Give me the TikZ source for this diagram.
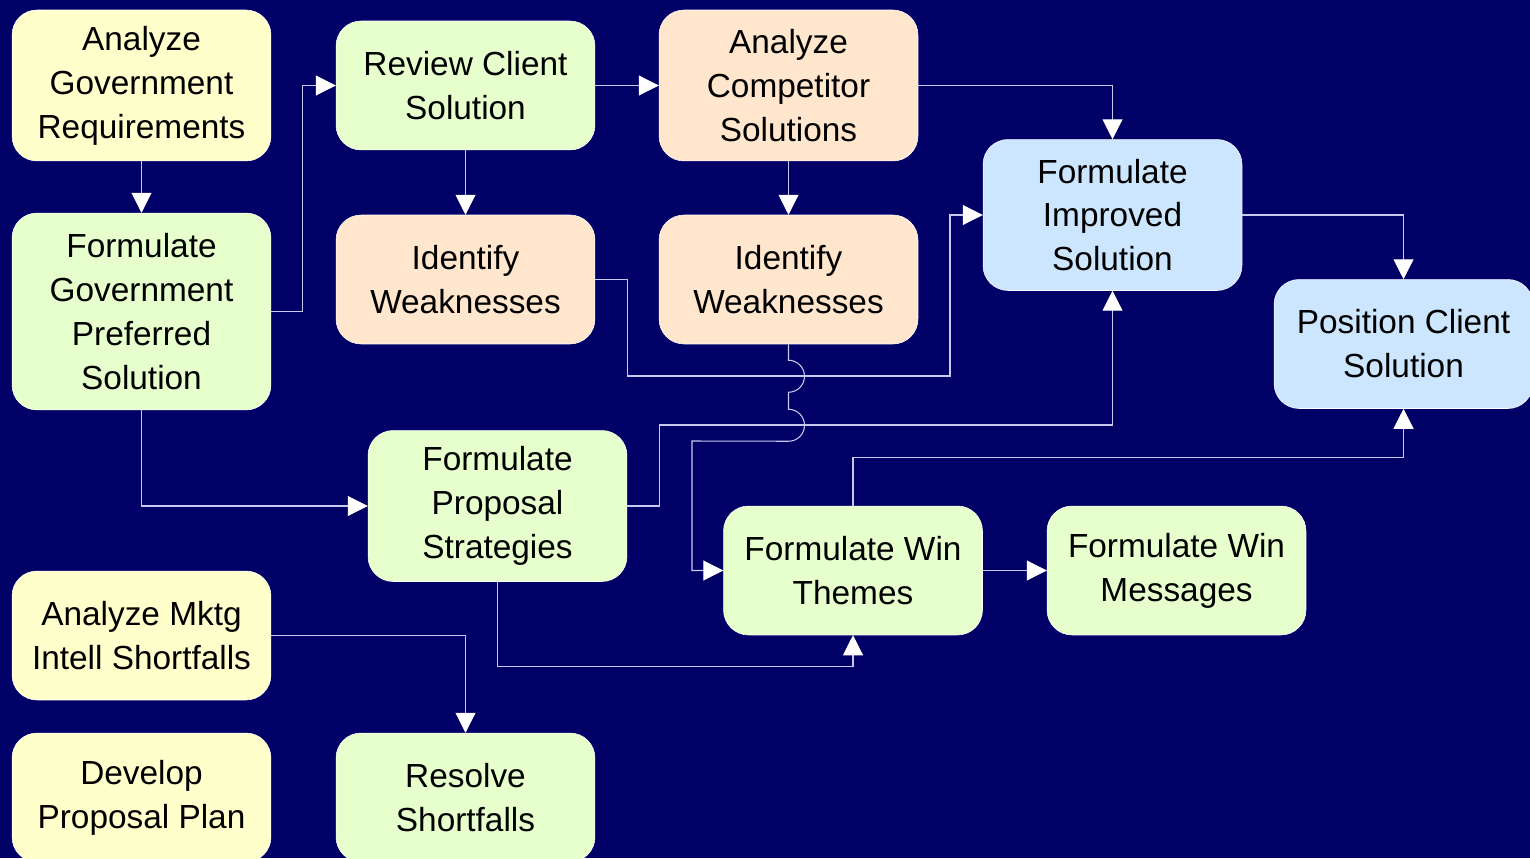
\documentclass[tikz,border=0pt]{standalone}
\usepackage{fontspec}
\setmainfont{Liberation Sans}
\usetikzlibrary{arrows.meta}
\definecolor{navy}{HTML}{000066}
\definecolor{paleyellow}{HTML}{FFFFCC}
\definecolor{palegreen}{HTML}{E6FFCC}
\definecolor{palepeach}{HTML}{FFE6CC}
\definecolor{paleblue}{HTML}{CCE6FF}
\definecolor{linkgray}{HTML}{C8C8EE}
\tikzset{
  task/.style={rounded corners=0.5cm, minimum width=5.18cm, align=center,
    inner sep=0pt, draw=white, line width=0.3pt,
    font=\fontsize{19}{25}\selectfont},
  twoline/.style={task, minimum height=2.58cm},
  threeline/.style={task, minimum height=3.02cm},
  link/.style={draw=linkgray, line width=0.6pt,
    -{Triangle[length=0.4cm,width=0.4cm,color=white]}}
}
\begin{document}
\begin{tikzpicture}[x=0.02cm,y=-0.02cm]
    \fill [navy] (0,0) rectangle (1530,858);
    \useasboundingbox (0,0) rectangle (1530,858);
    \node [threeline, fill=paleyellow] (agr) at (141.5,85.5) {Analyze\\Government\\Requirements};
    \node [task, minimum height=3.94cm, fill=palegreen] (fgps) at (141.5,311.5) {Formulate\\Government\\Preferred\\Solution};
    \node [twoline, fill=palegreen] (rcs) at (465.5,85.5) {Review Client\\Solution};
    \node [threeline, fill=palepeach] (acs) at (788.5,85.5) {Analyze\\Competitor\\Solutions};
    \node [twoline, fill=palepeach] (iwa) at (465.5,279.5) {Identify\\Weaknesses};
    \node [twoline, fill=palepeach] (iwb) at (788.5,279.5) {Identify\\Weaknesses};
    \node [threeline, fill=paleblue] (fis) at (1112.5,215) {Formulate\\Improved\\Solution};
    \node [twoline, fill=paleblue] (pcs) at (1403.5,344) {Position Client\\Solution};
    \node [threeline, fill=palegreen] (fps) at (497.5,506) {Formulate\\Proposal\\Strategies};
    \node [twoline, fill=palegreen] (fwt) at (853,570.5) {Formulate Win\\Themes};
    \node [twoline, fill=palegreen] (fwm) at (1176.5,570.5) {Formulate Win\\Messages};
    \node [twoline, fill=paleyellow] (amis) at (141.5,635.5) {Analyze Mktg\\Intell Shortfalls};
    \node [twoline, fill=paleyellow] (dpp) at (141.5,797.5) {Develop\\Proposal Plan};
    \node [twoline, fill=palegreen] (rs) at (465.5,797.5) {Resolve\\Shortfalls};

    \draw [link] (agr) -- (fgps);
    \draw [link] (fgps.east) -- ++(31,0) |- (rcs.west);
    \draw [link] (rcs) -- (acs);
    \draw [link] (rcs) -- (iwa);
    \draw [link] (acs) -- (iwb);
    \draw [link] (acs.east) -| (fis.north);
    \draw [link] (iwa.east) -- ++(32,0) |- (950,376) |- (fis.west);
    \draw [link] (iwb.south) -- ++(0,16) arc[start angle=-90,end angle=90,radius=16]
      -- ++(0,17) arc[start angle=-90,end angle=90,radius=16] -- (692,441) |- (fwt.west);
    \draw [link] (fps.east) -- ++(32,0) -- ++(0,-81) -| (fis.south);
    \draw [link] (fgps.south) |- (fps.west);
    \draw [link] (fps.south) -- ++(0,85) -| (fwt.south);
    \draw [link] (fwt.north) -- ++(0,-48) -| (pcs.south);
    \draw [link] (fis.east) -| (pcs.north);
    \draw [link] (fwt) -- (fwm);
    \draw [link] (amis.east) -| (rs.north);
\end{tikzpicture}
\end{document}
